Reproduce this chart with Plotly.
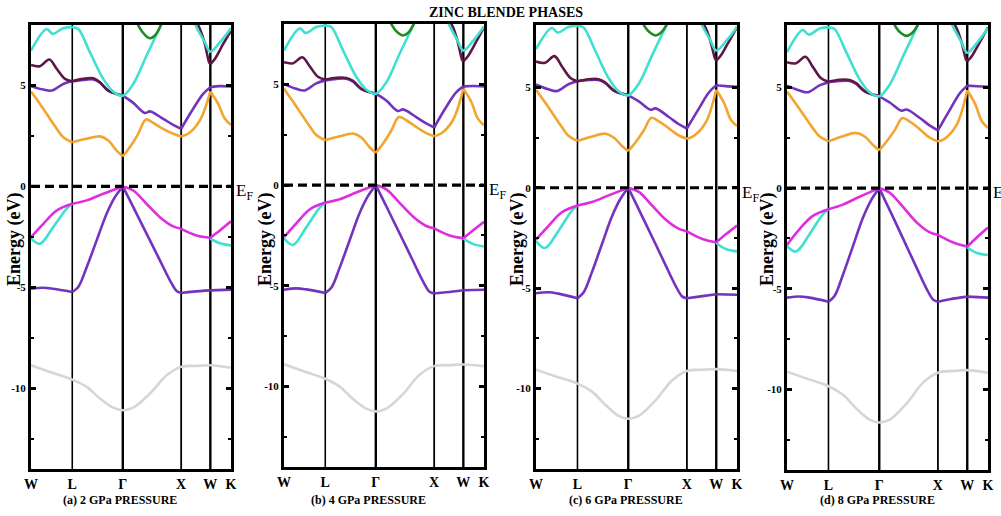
import plotly.graph_objects as go

W_PX, H_PX = 1001, 516
SERIF = "Liberation Serif"

# High-symmetry path W-L-Γ-X-W-K, cumulative distance in units of 2π/a
K_POINTS = [0.0, 0.707, 1.573, 2.573, 3.073, 3.427]
K_LABELS = ["W", "L", "Γ", "X", "W", "K"]

PANEL_TAGS = ["(a) 2 GPa PRESSURE", "(b) 4 GPa PRESSURE",
              "(c) 6 GPa PRESSURE", "(d) 8 GPa PRESSURE"]

# ---- k samples for each band ----
K_GRAY = [0.0, 0.325, 0.707, 0.954, 1.182, 1.409, 1.573, 1.752, 2.038, 2.324,
          2.573, 2.837, 3.073, 3.427]
K_VB_PURPLE = [0.0, 0.211, 0.382, 0.707, 0.810, 0.954, 1.125, 1.296, 1.438, 1.573,
               1.695, 1.866, 2.038, 2.209, 2.380, 2.495, 2.573, 2.779, 3.073, 3.427]
K_VB_CYAN = [0.0, 0.154, 0.382, 0.611, 0.707, 3.073, 3.236, 3.427]
K_VB_MAGENTA = [0.0, 0.211, 0.440, 0.707, 0.954, 1.238, 1.573, 1.752, 1.981, 2.209,
                2.437, 2.573, 2.837, 3.073, 3.236, 3.427]
K_CB_ORANGE = [0.0, 0.154, 0.440, 0.553, 0.707, 0.954, 1.182, 1.324, 1.467, 1.573,
               1.695, 1.837, 1.969, 2.094, 2.209, 2.437, 2.573, 2.693, 2.894, 3.073,
               3.207, 3.322, 3.427]
K_CB_PURPLE = [0.0, 0.211, 0.354, 0.553, 0.707, 0.896, 1.067, 1.182, 1.324, 1.573,
               1.752, 1.952, 2.038, 2.265, 2.437, 2.573, 2.779, 2.950, 3.073, 3.236,
               3.427]
K_CB_MAROON = [0.0, 0.154, 0.313, 0.440, 0.582, 0.707, 0.896, 1.067, 1.182, 1.324,
               1.573, 2.820, 2.894, 2.979, 3.053, 3.073, 3.151, 3.293, 3.427]
K_CB_CYAN = [0.0, 0.269, 0.372, 0.553, 0.707, 0.810, 1.010, 1.238, 1.409, 1.573,
             1.752, 1.981, 2.209, 2.265, None, 2.790, 2.837, 2.979, 3.073, 3.236, 3.427]
K_CB_GREEN = [1.800, 1.854, 1.952, 2.038, 2.123, 2.209, 2.260]

# ---- band energies (eV) at 2, 4, 6, 8 GPa ----
GRAY_2 = [-8.86, -9.19, -9.57, -9.93, -10.51, -10.96, -11.09, -10.96, -10.26, -9.36, -8.94, -8.89, -8.86, -8.98]
GRAY_4 = [-8.90, -9.23, -9.62, -10.01, -10.62, -11.10, -11.24, -11.10, -10.38, -9.42, -8.99, -8.94, -8.91, -8.99]
GRAY_6 = [-9.06, -9.38, -9.75, -10.15, -10.80, -11.36, -11.50, -11.36, -10.58, -9.58, -9.12, -9.06, -9.03, -9.12]
GRAY_8 = [-9.12, -9.45, -9.84, -10.26, -10.95, -11.50, -11.64, -11.50, -10.70, -9.65, -9.17, -9.08, -9.04, -9.17]

VB_PURPLE_2 = [-5.07, -5.02, -5.07, -5.23, -4.98, -4.00, -2.67, -1.35, -0.53, 0.0, -0.69, -1.68, -2.67, -3.66, -4.65, -5.18, -5.28, -5.21, -5.15, -5.11]
VB_PURPLE_4 = [-5.20, -5.13, -5.18, -5.36, -5.10, -4.10, -2.74, -1.39, -0.55, 0.0, -0.71, -1.72, -2.74, -3.76, -4.77, -5.30, -5.38, -5.32, -5.22, -5.20]
VB_PURPLE_6 = [-5.25, -5.20, -5.27, -5.50, -5.22, -4.20, -2.80, -1.42, -0.56, 0.0, -0.73, -1.76, -2.80, -3.85, -4.88, -5.42, -5.50, -5.42, -5.30, -5.33]
VB_PURPLE_8 = [-5.44, -5.38, -5.44, -5.64, -5.36, -4.30, -2.88, -1.46, -0.58, 0.0, -0.75, -1.80, -2.88, -3.95, -5.00, -5.55, -5.64, -5.52, -5.39, -5.44]

VB_CYAN_2 = [-2.58, -2.84, -2.01, -1.10, -0.86, -2.58, -2.81, -2.92]
VB_CYAN_4 = [-2.64, -2.97, -2.10, -1.12, -0.87, -2.66, -2.92, -3.05]
VB_CYAN_6 = [-2.65, -3.00, -2.15, -1.14, -0.88, -2.75, -3.05, -3.17]
VB_CYAN_8 = [-2.88, -3.15, -2.30, -1.30, -1.05, -2.95, -3.22, -3.32]

VB_MAGENTA_2 = [-2.51, -1.85, -1.19, -0.86, -0.69, -0.36, 0.0, -0.20, -0.86, -1.52, -1.98, -2.10, -2.43, -2.54, -2.18, -1.73]
VB_MAGENTA_4 = [-2.59, -1.90, -1.21, -0.87, -0.70, -0.37, 0.0, -0.21, -0.88, -1.56, -2.03, -2.15, -2.50, -2.64, -2.26, -1.82]
VB_MAGENTA_6 = [-2.58, -1.91, -1.22, -0.88, -0.71, -0.38, 0.0, -0.21, -0.89, -1.58, -2.05, -2.17, -2.55, -2.72, -2.32, -1.88]
VB_MAGENTA_8 = [-2.82, -2.05, -1.38, -1.05, -0.82, -0.43, 0.0, -0.23, -0.95, -1.70, -2.20, -2.32, -2.70, -2.90, -2.45, -1.96]

CB_ORANGE_2 = [4.70, 4.09, 2.86, 2.44, 2.19, 2.36, 2.48, 2.28, 1.78, 1.49, 1.95, 2.61, 3.32, 3.15, 2.94, 2.61, 2.48, 2.61, 3.27, 4.70, 4.09, 3.35, 3.05]
CB_ORANGE_4 = [4.79, 4.15, 2.92, 2.49, 2.23, 2.42, 2.56, 2.36, 1.88, 1.60, 2.05, 2.70, 3.38, 3.22, 3.00, 2.58, 2.43, 2.56, 3.22, 4.79, 4.15, 3.30, 2.97]
CB_ORANGE_6 = [4.88, 4.25, 3.02, 2.59, 2.33, 2.55, 2.69, 2.50, 2.08, 1.82, 2.25, 2.85, 3.48, 3.30, 3.08, 2.60, 2.44, 2.58, 3.25, 4.88, 4.22, 3.38, 3.07]
CB_ORANGE_8 = [4.80, 4.18, 2.98, 2.57, 2.32, 2.58, 2.74, 2.56, 2.14, 1.87, 2.30, 2.88, 3.48, 3.30, 3.06, 2.50, 2.32, 2.46, 3.15, 4.86, 4.18, 3.32, 2.99]

CB_PURPLE_2 = [4.97, 4.80, 4.75, 5.08, 5.21, 5.28, 5.30, 5.14, 4.75, 4.50, 4.14, 3.64, 3.72, 3.35, 3.05, 2.86, 3.85, 4.59, 4.92, 4.97, 4.95]
CB_PURPLE_4 = [5.03, 4.78, 4.70, 5.05, 5.20, 5.27, 5.28, 5.14, 4.78, 4.54, 4.20, 3.68, 3.76, 3.38, 3.06, 2.86, 3.88, 4.60, 4.90, 4.92, 4.90]
CB_PURPLE_6 = [5.14, 4.90, 4.81, 5.15, 5.30, 5.36, 5.36, 5.20, 4.84, 4.60, 4.30, 3.88, 3.95, 3.52, 3.16, 2.95, 3.95, 4.75, 5.10, 5.06, 5.03]
CB_PURPLE_8 = [5.09, 4.85, 4.76, 5.10, 5.26, 5.32, 5.32, 5.17, 4.80, 4.56, 4.25, 3.84, 3.90, 3.48, 3.10, 2.87, 3.90, 4.72, 5.09, 5.06, 5.03]

CB_MAROON_2 = [6.02, 5.96, 6.29, 5.83, 5.33, 5.21, 5.33, 5.36, 5.16, 4.75, 4.50, 8.20, 7.80, 7.06, 6.15, 6.07, 6.32, 7.06, 7.72]
CB_MAROON_4 = [6.10, 6.05, 6.35, 5.90, 5.38, 5.24, 5.33, 5.32, 5.18, 4.78, 4.54, 8.20, 7.85, 7.10, 6.22, 6.15, 6.40, 7.12, 7.84]
CB_MAROON_6 = [6.28, 6.22, 6.55, 6.05, 5.48, 5.30, 5.40, 5.40, 5.24, 4.85, 4.60, 8.30, 7.95, 7.25, 6.42, 6.33, 6.58, 7.30, 8.00]
CB_MAROON_8 = [6.25, 6.20, 6.52, 6.02, 5.45, 5.28, 5.38, 5.37, 5.20, 4.82, 4.56, 8.30, 7.92, 7.22, 6.38, 6.30, 6.55, 7.28, 7.98]

CB_CYAN_2 = [6.73, 7.80, 7.56, 7.84, 7.89, 7.80, 6.65, 5.33, 4.70, 4.50, 5.08, 6.49, 7.89, 8.25, None, 8.25, 7.89, 7.14, 6.68, 7.14, 7.84]
CB_CYAN_4 = [6.68, 7.78, 7.55, 7.85, 7.92, 7.85, 6.70, 5.38, 4.75, 4.54, 5.10, 6.52, 7.90, 8.25, None, 8.25, 7.92, 7.15, 6.68, 7.15, 7.88]
CB_CYAN_6 = [6.90, 7.95, 7.72, 8.00, 8.05, 7.98, 6.82, 5.45, 4.80, 4.60, 5.18, 6.60, 8.00, 8.35, None, 8.35, 8.05, 7.30, 6.83, 7.28, 8.00]
CB_CYAN_8 = [6.75, 7.85, 7.62, 7.92, 7.98, 7.90, 6.75, 5.40, 4.76, 4.56, 5.14, 6.56, 7.95, 8.30, None, 8.30, 7.98, 7.22, 6.72, 7.20, 7.95]

CB_GREEN_2 = [8.30, 7.89, 7.51, 7.34, 7.48, 7.89, 8.30]
CB_GREEN_4 = [8.30, 7.92, 7.56, 7.43, 7.55, 7.92, 8.30]
CB_GREEN_6 = [8.40, 8.02, 7.70, 7.58, 7.70, 8.02, 8.40]
CB_GREEN_8 = [8.40, 8.00, 7.68, 7.56, 7.68, 8.00, 8.40]

# Band styles, in drawing order: (k samples, energies per panel, colour, split at k-points)
BANDS = [
    (K_GRAY, [GRAY_2, GRAY_4, GRAY_6, GRAY_8], "#d6d6d6", False),
    (K_VB_PURPLE, [VB_PURPLE_2, VB_PURPLE_4, VB_PURPLE_6, VB_PURPLE_8], "#7433bf", True),
    (K_VB_CYAN, [VB_CYAN_2, VB_CYAN_4, VB_CYAN_6, VB_CYAN_8], "#3fe0d2", True),
    (K_VB_MAGENTA, [VB_MAGENTA_2, VB_MAGENTA_4, VB_MAGENTA_6, VB_MAGENTA_8], "#e02ce0", True),
    (K_CB_ORANGE, [CB_ORANGE_2, CB_ORANGE_4, CB_ORANGE_6, CB_ORANGE_8], "#f2a630", True),
    (K_CB_PURPLE, [CB_PURPLE_2, CB_PURPLE_4, CB_PURPLE_6, CB_PURPLE_8], "#7433bf", True),
    (K_CB_MAROON, [CB_MAROON_2, CB_MAROON_4, CB_MAROON_6, CB_MAROON_8], "#5e1848", True),
    (K_CB_CYAN, [CB_CYAN_2, CB_CYAN_4, CB_CYAN_6, CB_CYAN_8], "#3fe0d2", False),
    (K_CB_GREEN, [CB_GREEN_2, CB_GREEN_4, CB_GREEN_6, CB_GREEN_8], "#228b22", False),
]

# Panel frames in pixels: left, right, top, bottom; plus the energy window
PANEL_BOX = [(31, 231, 25, 469), (284, 484, 24, 467), (536, 737, 25, 469), (787, 988, 25, 470)]
E_TOP = [8.0, 8.0, 8.1, 8.1]
E_BOTTOM = -14.0
TAG_X = [120, 368, 626, 877]
YLABEL_X = [15, 266, 518, 768]


def band_xy(ks, es, split):
    """Break a band at the high-symmetry points so corners stay sharp."""
    if not split:
        return ks, es
    xs, ys = [], []
    for a, b in zip(K_POINTS[:-1], K_POINTS[1:]):
        seg = [(k, e) for k, e in zip(ks, es) if a - 1e-6 <= k <= b + 1e-6]
        if len(seg) < 2:
            continue
        if xs:
            xs.append(None)
            ys.append(None)
        xs += [p[0] for p in seg]
        ys += [p[1] for p in seg]
    return xs, ys


fig = go.Figure()
shapes, annotations = [], []

for i in range(4):
    n = "" if i == 0 else str(i + 1)
    xa, ya = "x" + n, "y" + n
    for ks, series, color, split in BANDS:
        xs, ys = band_xy(ks, series[i], split)
        fig.add_trace(go.Scatter(
            x=xs, y=ys, mode="lines", xaxis=xa, yaxis=ya,
            line=dict(color=color, width=2.6, shape="spline", smoothing=1.0),
            connectgaps=False, showlegend=False, hoverinfo="skip"))

    left, right, top, bottom = PANEL_BOX[i]
    dom_x = [left / W_PX, right / W_PX]
    dom_y = [1 - bottom / H_PX, 1 - top / H_PX]
    fig.layout["xaxis" + n] = dict(
        domain=dom_x, anchor=ya, range=[K_POINTS[0], K_POINTS[-1]],
        tickvals=K_POINTS, ticktext=K_LABELS, ticks="", automargin=False,
        tickfont=dict(family=SERIF, size=14, color="black", weight="bold"),
        showline=True, mirror=True, linewidth=3, linecolor="black",
        showgrid=False, zeroline=False)
    fig.layout["yaxis" + n] = dict(
        domain=dom_y, anchor=xa, range=[E_BOTTOM, E_TOP[i]], automargin=False,
        tickvals=[-10, -5, 0, 5], ticktext=["-10", "-5", "0", "5"],
        ticks="inside", ticklen=5, tickwidth=3, tickcolor="black",
        minor=dict(tickvals=[-12.5, -7.5, -2.5, 2.5], ticks="inside",
                   ticklen=3, tickwidth=1.5, tickcolor="black"),
        tickfont=dict(family=SERIF, size=11, color="black", weight="bold"),
        showline=True, mirror="ticks", linewidth=3, linecolor="black",
        showgrid=False, zeroline=False)

    # vertical lines at the interior high-symmetry points
    for k, w in zip(K_POINTS[1:-1], [1.6, 2.4, 1.8, 2.4]):
        shapes.append(dict(type="line", xref=xa, yref=ya + " domain",
                           x0=k, x1=k, y0=0, y1=1, layer="below",
                           line=dict(color="black", width=w)))
    # Fermi level
    shapes.append(dict(type="line", xref=xa, yref=ya, x0=K_POINTS[0], x1=K_POINTS[-1],
                       y0=0, y1=0, layer="above",
                       line=dict(color="black", width=3.2, dash="9px,5px")))

    zero_px = top + (E_TOP[i] / (E_TOP[i] - E_BOTTOM)) * (bottom - top)
    annotations.append(dict(
        text="E<sub>F</sub>", xref="paper", yref="paper",
        x=(right + 3) / W_PX, y=1 - (zero_px + 6) / H_PX,
        xanchor="left", yanchor="middle", showarrow=False,
        font=dict(family=SERIF, size=17, color="black")))
    annotations.append(dict(
        text=PANEL_TAGS[i], xref="paper", yref="paper",
        x=TAG_X[i] / W_PX, y=1 - 500 / H_PX, xanchor="center", yanchor="middle",
        showarrow=False, font=dict(family=SERIF, size=12, color="black", weight="bold")))
    annotations.append(dict(
        text="Energy (eV)", xref="paper", yref="paper", textangle=-90,
        x=YLABEL_X[i] / W_PX, y=1 - 240 / H_PX, xanchor="center", yanchor="middle",
        showarrow=False, font=dict(family=SERIF, size=18, color="black", weight="bold")))

annotations.append(dict(
    text="ZINC BLENDE PHASES", xref="paper", yref="paper",
    x=506 / W_PX, y=1 - 12 / H_PX, xanchor="center", yanchor="middle",
    showarrow=False, font=dict(family=SERIF, size=14, color="black", weight="bold")))

fig.update_layout(
    width=W_PX, height=H_PX, autosize=False,
    margin=dict(l=0, r=0, t=0, b=0, autoexpand=False),
    paper_bgcolor="white", plot_bgcolor="white",
    shapes=shapes, annotations=annotations,
)

fig.write_html("out.html")
